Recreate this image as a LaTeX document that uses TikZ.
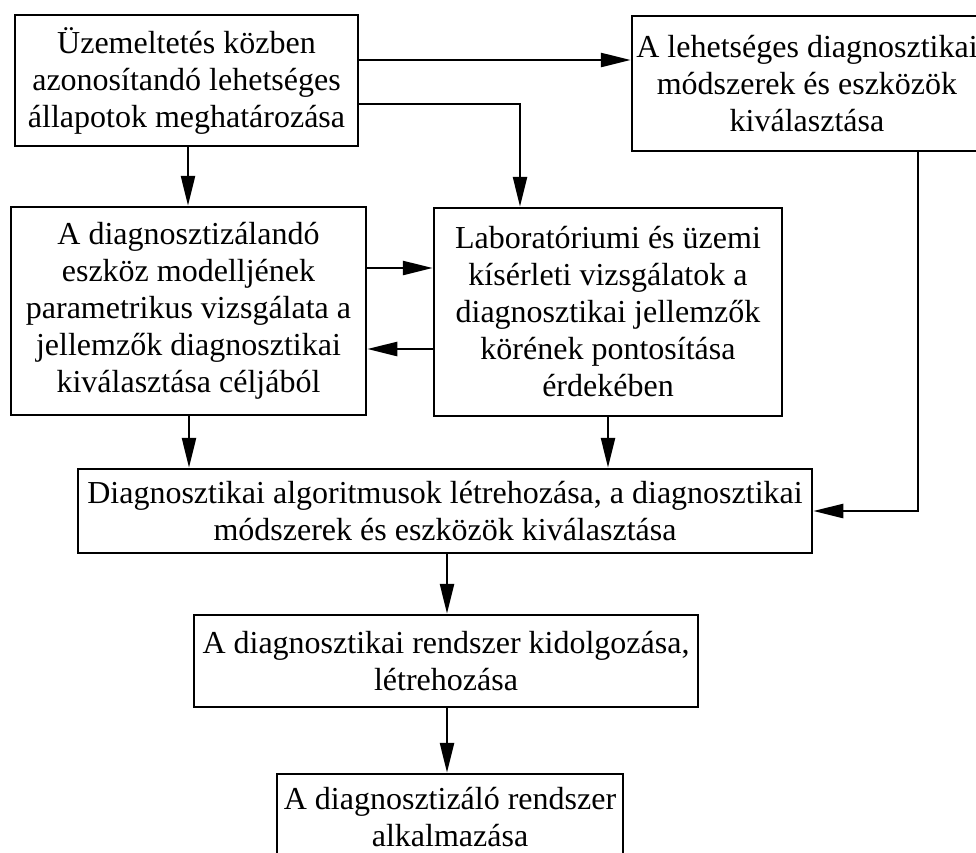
\documentclass[tikz,border=0pt]{standalone}
\usepackage{fontspec}
\setmainfont{Liberation Serif}
\usetikzlibrary{arrows.meta}
\begin{document}
\begin{tikzpicture}[x=1pt,y=-1pt,
  box/.style={draw=black,line width=2.5pt,inner sep=0pt,align=center,
    font=\fontsize{32}{37}\selectfont},
  arr/.style={line width=2.5pt,-{Triangle[length=30pt,width=14pt]}}]
\useasboundingbox (0,0) rectangle (976,852);
\node[box,minimum width=343pt,minimum height=131pt] (b1) at (186.5,80.5)
  {Üzemeltetés közben\\azonosítandó lehetséges\\állapotok meghatározása};
\node[box,minimum width=350pt,minimum height=135pt] (b2) at (807,83.5)
  {A lehetséges diagnosztikai\\módszerek és eszközök\\kiválasztása};
\node[box,minimum width=355pt,minimum height=208pt] (b3) at (188.5,311)
  {A diagnosztizálandó\\eszköz modelljének\\parametrikus vizsgálata a\\jellemzők diagnosztikai\\kiválasztása céljából};
\node[box,minimum width=348pt,minimum height=208pt] (lab) at (608,312)
  {Laboratóriumi és üzemi\\kísérleti vizsgálatok a\\diagnosztikai jellemzők\\körének pontosítása\\érdekében};
\node[box,minimum width=734pt,minimum height=84pt] (alg) at (445,511)
  {Diagnosztikai algoritmusok létrehozása, a diagnosztikai\\módszerek és eszközök kiválasztása};
\node[box,minimum width=504pt,minimum height=92pt] (b5) at (446,661)
  {A diagnosztikai rendszer kidolgozása,\\létrehozása};
\node[box,minimum width=346pt,minimum height=86pt] (b6) at (450,817)
  {A diagnosztizáló rendszer\\alkalmazása};
\draw[arr] (b1.east |- 0,60) -- (b2.west |- 0,60);
\draw[arr] (b1.east |- 0,104) -| (lab.north -| 520,0);
\draw[arr] (b1.south -| 188,0) -- (b3.north -| 188,0);
\draw[arr] (b3.east |- 0,268) -- (lab.west |- 0,268);
\draw[arr] (lab.west |- 0,349) -- (b3.east |- 0,349);
\draw[arr] (b3.south -| 189,0) -- (alg.north -| 189,0);
\draw[arr] (lab.south) -- (alg.north -| lab.south);
\draw[arr] (b2.south -| 918,0) |- (alg.east);
\draw[arr] (alg.south -| 447,0) -- (b5.north -| 447,0);
\draw[arr] (b5.south -| 447,0) -- (b6.north -| 447,0);
\end{tikzpicture}
\end{document}
